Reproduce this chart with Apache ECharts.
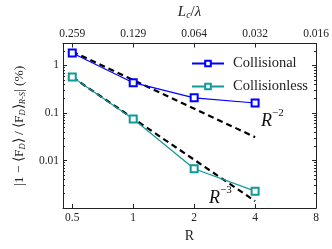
<!DOCTYPE html>
<html><head><meta charset="utf-8">
<script src="https://cdn.jsdelivr.net/npm/echarts@6/dist/echarts.min.js"></script>
<style>html,body{margin:0;padding:0;background:#fff}#c{width:332px;height:249px}</style>
</head><body><div id="c"></div>
<script>
const rValues = [0.5, 1, 2, 4];
const collisional = [1.83, 0.434, 0.208, 0.162];
const collisionless = [0.57, 0.075, 0.0067, 0.00226];
const fitR = [0.5, 4];
const fitR2 = [1.96, 0.031];
const fitR3 = [0.57, 0.0014];
const bottomTicks = [0.5, 1, 2, 4, 8];
const topTickLabels = ['0.259', '0.129', '0.064', '0.032', '0.016'];
const yTicks = [0.01, 0.1, 1];

const FONT = 'Liberation Serif';
const pair = (xs, ys) => xs.map((x, i) => [x, ys[i]]);
const near = (v, arr) => arr.findIndex(t => Math.abs(Math.log(v) - Math.log(t)) < 1e-6);

const chart = echarts.init(document.getElementById('c'), null, {renderer: 'canvas'});
const axisLineStyle = {show: true, lineStyle: {color: '#222', width: 1}};
const supRich = {
  r: {fontFamily: FONT, fontStyle: 'italic', fontSize: 18, fill: '#111', lineHeight: 22, verticalAlign: 'bottom'},
  s: {fontFamily: FONT, fontSize: 11, fill: '#111', verticalAlign: 'top', lineHeight: 12}
};
chart.setOption({
  animation: false,
  textStyle: {fontFamily: FONT},
  grid: {left: 63, right: 11, top: 41, bottom: 41},
  legend: {
    data: ['Collisional', 'Collisionless'],
    orient: 'vertical', left: 186, top: 51, itemWidth: 32, itemHeight: 7, itemGap: 8,
    textStyle: {fontFamily: FONT, fontSize: 14.5, color: '#222', padding: [0, 0, 0, 4]}
  },
  xAxis: [{
    type: 'log', logBase: 2, min: 0.45, max: 8, position: 'bottom',
    name: 'R', nameLocation: 'middle', nameGap: 17,
    nameTextStyle: {fontFamily: FONT, fontSize: 14, color: '#222'},
    axisLine: axisLineStyle,
    axisTick: {inside: true, length: 4, lineStyle: {color: '#222'}},
    axisLabel: {fontFamily: FONT, fontSize: 11.5, color: '#222', margin: 4,
      formatter: v => near(v, bottomTicks) >= 0 ? String(bottomTicks[near(v, bottomTicks)]) : ''},
    splitLine: {show: false}
  }, {
    type: 'log', logBase: 2, min: 0.45, max: 8, position: 'top',
    name: '{i|L}{s|c}{n|/}{i|λ}', nameLocation: 'middle', nameGap: 23,
    nameTextStyle: {fontFamily: FONT, fontSize: 14, color: '#222',
      rich: {i: {fontStyle: 'italic', fontSize: 15, fontFamily: FONT, color: '#222'},
             s: {fontStyle: 'italic', fontSize: 10, fontFamily: FONT, color: '#222', verticalAlign: 'bottom', padding: [6, 0, 0, 0]},
             n: {fontSize: 15, fontFamily: FONT, color: '#222'}}},
    axisLine: axisLineStyle,
    axisTick: {inside: true, length: 4, lineStyle: {color: '#222'}},
    axisLabel: {fontFamily: FONT, fontSize: 11.5, color: '#222', margin: 4,
      formatter: v => near(v, bottomTicks) >= 0 ? topTickLabels[near(v, bottomTicks)] : ''},
    splitLine: {show: false}
  }],
  yAxis: [{
    type: 'log', logBase: 10, min: 0.001, max: 2.9, position: 'left',
    name: '|1 − ⟨F{s|D}⟩ / ⟨F{s|D}⟩{s|R-S}| (%)', nameLocation: 'middle', nameGap: 36, nameRotate: 90,
    nameTextStyle: {fontFamily: FONT, fontSize: 13.5, color: '#222',
      rich: {s: {fontSize: 8.5, fontStyle: 'italic', fontFamily: FONT, color: '#222', verticalAlign: 'bottom', padding: [6, 0, 0, 0]}}},
    axisLine: axisLineStyle,
    axisTick: {inside: true, length: 4, lineStyle: {color: '#222'}},
    minorTick: {show: true, splitNumber: 9, length: 2, lineStyle: {color: '#222'}},
    axisLabel: {fontFamily: FONT, fontSize: 11.5, color: '#222', margin: 4,
      formatter: v => near(v, yTicks) >= 0 ? String(yTicks[near(v, yTicks)]) : ''},
    splitLine: {show: false}
  }, {
    type: 'log', logBase: 10, min: 0.001, max: 2.9, position: 'right',
    axisLine: axisLineStyle,
    axisTick: {inside: true, length: 4, lineStyle: {color: '#222'}},
    minorTick: {show: true, splitNumber: 9, length: 2, lineStyle: {color: '#222'}},
    axisLabel: {show: false},
    splitLine: {show: false}
  }],
  series: [{
    name: 'R^-2 fit', type: 'line', data: pair(fitR, fitR2), symbol: 'none',
    lineStyle: {color: '#000', width: 2.2, type: [6, 4]}, z: 3
  }, {
    name: 'R^-3 fit', type: 'line', data: pair(fitR, fitR3), symbol: 'none',
    lineStyle: {color: '#000', width: 2.2, type: [6, 4]}, z: 3
  }, {
    name: 'Collisional', type: 'line', data: pair(rValues, collisional),
    symbol: 'emptyRect', symbolSize: 7, color: '#0000ff',
    lineStyle: {color: '#0000ff', width: 1.2}, itemStyle: {color: '#0000ff', borderWidth: 1.1}, z: 4
  }, {
    name: 'Collisionless', type: 'line', data: pair(rValues, collisionless),
    symbol: 'emptyRect', symbolSize: 7, color: '#119999',
    lineStyle: {color: '#119999', width: 1.2}, itemStyle: {color: '#119999', borderWidth: 1.1}, z: 4
  }],
  graphic: [{
    type: 'text', left: 261, top: 108,
    style: {rich: supRich, text: '{r|R}{s|−2}'}
  }, {
    type: 'text', left: 209, top: 185,
    style: {rich: supRich, text: '{r|R}{s|−3}'}
  }]
});
</script></body></html>
